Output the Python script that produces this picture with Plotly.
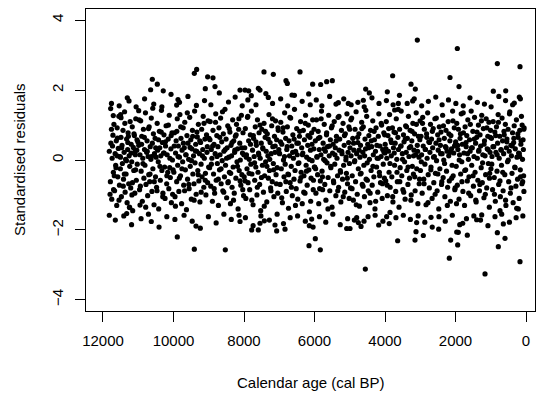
import plotly.graph_objects as go

# ---------------- data (read/estimated from the reference) ----------------
age_b11 = [11821, 11790, 11776, 11752, 11740, 11718, 11705, 11690, 11671, 11655,
           11640, 11622, 11610, 11598, 11580, 11566, 11550, 11533, 11520, 11507,
           11490, 11478, 11461, 11450, 11432, 11418, 11400, 11388, 11372, 11360,
           11345, 11330, 11316, 11300, 11288, 11270, 11258, 11241, 11230, 11214,
           11200, 11185, 11170, 11158, 11140, 11127, 11110, 11098, 11082, 11070,
           11055, 11040, 11028, 11012, 11800, 11760, 11730, 11680, 11630, 11590,
           11545, 11505, 11470, 11425, 11380, 11335, 11295, 11250, 11205, 11165,
           11120, 11075, 11035, 11700, 11600, 11500, 11395, 11280, 11180, 11090]
res_b11 = [0.25, -0.62, 0.48, -1.12, 0.05, 0.71, -0.35, 1.02, -0.88, 0.18,
           -0.15, 0.55, -1.30, 0.92, -0.48, 0.33, 1.25, -0.72, 0.10, -0.25,
           0.65, -1.05, 0.42, -0.10, 0.85, -0.55, 0.22, 1.38, -0.92, 0.02,
           -0.40, 0.60, -1.22, 0.30, 0.78, -0.68, 0.12, -0.18, 1.10, -0.80,
           0.45, -0.05, 0.95, -1.45, 0.36, -0.30, 0.70, -0.95, 0.15, 1.18,
           -0.58, 0.28, -0.12, 0.52, -0.98, 0.88, 0.40, -0.45, -0.22, 0.63,
           -1.15, 0.08, 0.35, -0.75, 1.05, -0.02, 0.50, -1.35, 0.20, -0.65,
           0.75, -0.28, 0.58, -0.85, 0.12, 1.30, -0.40, 0.68, -1.00, 0.25]

age_b10 = [10985, 10962, 10950, 10931, 10918, 10900, 10884, 10871, 10853, 10840,
           10822, 10810, 10795, 10780, 10762, 10750, 10733, 10720, 10702, 10690,
           10675, 10660, 10641, 10630, 10612, 10600, 10585, 10570, 10552, 10540,
           10521, 10510, 10494, 10480, 10463, 10450, 10432, 10420, 10401, 10390,
           10374, 10360, 10342, 10330, 10315, 10300, 10283, 10270, 10252, 10240,
           10225, 10210, 10193, 10180, 10162, 10150, 10133, 10120, 10102, 10090,
           10074, 10060, 10043, 10030, 10012, 10975, 10940, 10905, 10866, 10827,
           10788, 10745, 10708, 10666, 10625, 10588, 10545, 10505, 10468, 10425,
           10385, 10347, 10305, 10265, 10228, 10188, 10145, 10108, 10066, 10025]
res_b10 = [0.42, -0.85, 0.15, 1.12, -0.32, 0.68, -1.18, 0.05, 0.88, -0.52,
           0.30, -0.15, 1.35, -0.70, 0.22, 0.55, -1.02, 0.10, -0.42, 0.95,
           -0.62, 0.38, 0.02, 1.20, -0.90, 0.48, -0.25, 0.75, -1.28, 0.18,
           0.62, -0.48, 0.08, -0.78, 1.05, 0.28, -0.05, -1.40, 0.82, 0.35,
           -0.58, 0.12, 1.42, -0.30, 0.50, -0.95, 0.20, 0.72, -0.20, -1.10,
           0.40, 0.98, -0.68, 0.15, -0.35, 0.60, -0.82, 1.28, 0.05, -0.50,
           0.32, -1.22, 0.78, 0.00, -0.28, 1.15, -0.75, 0.45, -0.10, 0.65,
           -1.35, 0.25, 0.90, -0.40, 0.10, 1.48, -0.62, 0.35, -0.88, 0.58,
           -0.18, 0.80, -1.05, 0.20, 0.52, -0.45, 1.00, -0.22, 0.70, -0.98]

age_b9 = [9990, 9972, 9958, 9941, 9925, 9910, 9893, 9880, 9862, 9848,
          9831, 9818, 9801, 9788, 9770, 9757, 9740, 9725, 9710, 9694,
          9680, 9663, 9650, 9632, 9618, 9601, 9588, 9570, 9557, 9540,
          9525, 9510, 9494, 9480, 9463, 9450, 9432, 9418, 9401, 9388,
          9370, 9357, 9340, 9325, 9310, 9294, 9280, 9263, 9250, 9232,
          9218, 9201, 9188, 9170, 9157, 9140, 9125, 9110, 9094, 9080,
          9063, 9050, 9032, 9018, 9003, 9980, 9945, 9905, 9870, 9835,
          9795, 9760, 9720, 9685, 9645, 9608, 9565, 9530, 9490, 9455,
          9415, 9378, 9335, 9298, 9255, 9215, 9178, 9135, 9098, 9040]
res_b9 = [-0.35, 0.78, -1.05, 0.20, 0.55, -0.62, 1.18, -0.15, 0.40, -0.90,
          0.08, 1.30, -0.45, 0.62, -1.25, 0.28, -0.05, 0.92, -0.72, 0.35,
          1.08, -0.28, 0.15, -1.42, 0.70, -0.55, 0.48, 0.02, -0.82, 1.22,
          -0.18, 0.58, -1.12, 0.32, 0.85, -0.40, 0.12, -0.68, 1.40, -0.08,
          0.45, -0.98, 0.25, 0.66, -0.30, 1.02, -0.60, 0.18, -1.20, 0.50,
          -0.12, 0.88, -0.48, 0.30, 1.25, -0.78, 0.05, 0.60, -0.38, -1.00,
          0.72, 0.22, -0.65, 1.12, -0.20, 0.40, -1.32, 0.82, 0.10, -0.52,
          0.95, -0.25, 0.48, -0.88, 0.15, 1.35, -0.70, 0.36, -0.02, 0.68,
          -1.15, 0.26, 0.80, -0.42, 0.55, -0.92, 0.12, 1.05, -0.58, 0.38]

age_b8 = [8992, 8975, 8960, 8942, 8928, 8911, 8896, 8880, 8864, 8850,
          8833, 8818, 8802, 8788, 8771, 8756, 8740, 8726, 8710, 8694,
          8680, 8663, 8648, 8632, 8618, 8601, 8586, 8570, 8555, 8540,
          8523, 8508, 8492, 8478, 8461, 8446, 8430, 8415, 8400, 8384,
          8370, 8353, 8338, 8322, 8308, 8291, 8276, 8260, 8245, 8230,
          8213, 8198, 8182, 8168, 8151, 8136, 8120, 8105, 8090, 8074,
          8060, 8043, 8028, 8012, 8965, 8925, 8890, 8845, 8808, 8765,
          8728, 8688, 8650, 8610, 8575, 8532, 8495, 8455, 8418, 8378,
          8340, 8298, 8265, 8222, 8185, 8145, 8110, 8068, 8035, 8004]
res_b8 = [0.62, -0.22, 1.10, -0.75, 0.30, 0.05, -1.18, 0.85, -0.40, 0.45,
          -0.95, 0.18, 1.32, -0.58, 0.70, -0.10, 0.38, -1.30, 0.92, -0.28,
          0.15, 1.20, -0.68, 0.52, -0.02, -0.88, 0.75, 0.25, -0.48, 1.45,
          -0.15, 0.60, -1.08, 0.35, 0.98, -0.62, 0.08, -0.35, 0.80, -1.25,
          0.42, 0.12, -0.78, 1.15, -0.20, 0.55, -0.95, 0.28, 0.68, -0.52,
          1.02, -0.05, 0.32, -1.40, 0.88, -0.30, 0.48, 0.00, -0.72, 1.28,
          -0.42, 0.20, 0.78, -1.02, 0.58, -0.12, 0.40, -0.82, 1.08, 0.10,
          -0.55, 0.65, -0.25, 1.38, -0.92, 0.30, 0.05, -0.65, 0.90, -0.38,
          0.50, -1.15, 0.22, 0.72, -0.18, 1.18, -0.60, 0.35, -0.85, 0.15]

age_b7 = [7995, 7978, 7962, 7948, 7930, 7915, 7900, 7884, 7868, 7852,
          7838, 7820, 7806, 7790, 7775, 7758, 7742, 7728, 7712, 7696,
          7680, 7665, 7650, 7634, 7618, 7602, 7588, 7572, 7556, 7540,
          7526, 7510, 7494, 7478, 7462, 7448, 7432, 7416, 7400, 7386,
          7370, 7354, 7338, 7322, 7308, 7292, 7276, 7260, 7245, 7230,
          7214, 7198, 7182, 7168, 7152, 7136, 7120, 7105, 7090, 7074,
          7058, 7042, 7028, 7012, 7970, 7935, 7892, 7856, 7815, 7778,
          7735, 7700, 7660, 7622, 7580, 7545, 7505, 7468, 7425, 7390,
          7350, 7312, 7270, 7235, 7192, 7158, 7115, 7080, 7035, 7003]
res_b7 = [-0.48, 0.35, 0.90, -1.10, 0.15, -0.25, 1.22, -0.65, 0.55, 0.02,
          -0.85, 0.72, -0.12, 1.40, -0.40, 0.28, -1.28, 0.62, 0.10, -0.58,
          0.95, -0.20, 0.42, -1.00, 1.15, -0.35, 0.20, 0.78, -0.70, 0.05,
          -1.45, 0.48, 0.88, -0.15, 0.32, -0.92, 1.05, -0.45, 0.65, -0.05,
          0.25, -1.20, 0.75, 0.12, -0.52, 1.30, -0.30, 0.50, -0.80, 0.18,
          0.98, -0.62, 0.38, -0.10, -1.05, 0.68, 0.22, 1.12, -0.42, 0.58,
          -0.22, -0.95, 0.85, 0.30, -0.60, 0.08, 1.25, -0.38, 0.45, -1.15,
          0.70, -0.08, 0.52, -0.78, 0.15, 1.00, -0.50, 0.35, -1.32, 0.82,
          -0.18, 0.60, 0.02, -0.88, 1.18, -0.28, 0.40, -0.68, 0.92, 0.20]

age_b6 = [6990, 6974, 6958, 6942, 6927, 6910, 6895, 6880, 6864, 6848,
          6832, 6817, 6800, 6786, 6770, 6754, 6738, 6722, 6708, 6692,
          6676, 6660, 6645, 6630, 6614, 6598, 6582, 6568, 6552, 6536,
          6520, 6505, 6490, 6474, 6458, 6442, 6427, 6410, 6395, 6380,
          6364, 6348, 6332, 6317, 6300, 6286, 6270, 6254, 6238, 6222,
          6208, 6192, 6176, 6160, 6145, 6130, 6114, 6098, 6082, 6068,
          6052, 6036, 6020, 6005, 6965, 6930, 6888, 6852, 6812, 6775,
          6735, 6698, 6655, 6620, 6578, 6540, 6500, 6462, 6420, 6385,
          6342, 6305, 6262, 6228, 6185, 6150, 6108, 6072, 6030, 6012]
res_b6 = [0.18, -0.70, 1.08, -0.25, 0.45, -1.22, 0.80, 0.00, -0.48, 1.35,
          -0.12, 0.62, -0.90, 0.30, 0.95, -0.40, -1.38, 0.55, 0.12, -0.65,
          1.20, -0.18, 0.40, -1.02, 0.72, 0.05, -0.55, 1.45, -0.30, 0.25,
          -0.82, 0.90, 0.15, -1.12, 0.48, -0.08, 0.68, -0.60, 1.10, -0.35,
          0.35, -1.25, 0.20, 0.85, -0.45, 0.58, -0.95, 1.28, -0.15, 0.08,
          -0.72, 0.42, 1.00, -0.28, -1.48, 0.65, 0.28, -0.52, 0.78, -0.02,
          1.15, -0.85, 0.32, -0.20, 0.52, -1.08, 0.92, 0.10, -0.62, 0.38,
          -0.42, 1.22, -0.78, 0.22, 0.60, -1.30, 0.48, -0.10, 0.82, -0.50,
          0.15, -0.92, 1.05, -0.32, 0.70, 0.02, -1.18, 0.45, -0.58, 0.88]

age_b5 = [5992, 5976, 5960, 5944, 5928, 5912, 5896, 5880, 5865, 5850,
          5834, 5818, 5802, 5786, 5770, 5755, 5740, 5724, 5708, 5692,
          5676, 5660, 5645, 5630, 5614, 5598, 5582, 5566, 5550, 5535,
          5520, 5504, 5488, 5472, 5456, 5440, 5425, 5410, 5394, 5378,
          5362, 5346, 5330, 5315, 5300, 5284, 5268, 5252, 5236, 5220,
          5205, 5190, 5174, 5158, 5142, 5126, 5110, 5095, 5080, 5064,
          5048, 5032, 5016, 5002, 5968, 5932, 5890, 5855, 5812, 5775,
          5732, 5698, 5655, 5618, 5575, 5540, 5498, 5462, 5420, 5385,
          5340, 5305, 5262, 5228, 5185, 5150, 5105, 5070, 5025, 5008]
res_b5 = [-0.20, 0.55, -0.95, 1.15, 0.08, -0.42, 0.82, -1.25, 0.30, 0.65,
          -0.60, 0.15, 1.40, -0.32, -0.85, 0.48, 0.02, 1.02, -0.70, 0.25,
          -1.15, 0.72, -0.08, 0.38, -0.50, 1.28, 0.12, -0.88, 0.58, -0.22,
          0.92, -1.35, 0.20, 0.45, -0.65, 1.10, -0.12, 0.35, -1.02, 0.68,
          0.05, -0.45, 1.22, -0.78, 0.28, 0.60, -0.30, -1.20, 0.85, 0.18,
          -0.55, 1.05, -0.15, 0.42, -0.92, 0.75, 0.00, -0.38, 1.32, -0.68,
          0.22, 0.50, -1.10, 0.88, -0.25, 0.10, 0.62, -0.82, 1.18, -0.48,
          0.32, -0.02, 0.78, -1.40, 0.40, -0.18, 0.98, -0.60, 0.15, 0.55,
          -0.88, 1.25, -0.35, 0.25, -1.05, 0.70, 0.08, -0.52, 0.95, -0.10]

age_b4 = [4993, 4978, 4962, 4946, 4930, 4914, 4898, 4882, 4866, 4850,
          4835, 4820, 4804, 4788, 4772, 4756, 4740, 4725, 4710, 4694,
          4678, 4662, 4646, 4630, 4615, 4600, 4584, 4568, 4552, 4536,
          4520, 4505, 4490, 4474, 4458, 4442, 4426, 4410, 4395, 4380,
          4364, 4348, 4332, 4316, 4300, 4285, 4270, 4254, 4238, 4222,
          4206, 4190, 4175, 4160, 4144, 4128, 4112, 4096, 4080, 4065,
          4050, 4034, 4018, 4004, 4970, 4935, 4892, 4858, 4815, 4778,
          4735, 4700, 4658, 4622, 4578, 4545, 4500, 4465, 4422, 4388,
          4342, 4308, 4265, 4230, 4188, 4152, 4108, 4072, 4028, 4010]
res_b4 = [0.35, -0.80, 0.12, 1.20, -0.45, 0.62, -1.15, 0.28, -0.05, 0.88,
          -0.62, 1.38, 0.18, -0.98, 0.50, -0.25, 0.75, -1.32, 0.08, 0.42,
          -0.38, 1.08, -0.70, 0.22, 0.95, -0.15, -1.05, 0.60, 0.32, -0.55,
          1.25, -0.08, 0.45, -0.88, 0.70, 0.02, -1.22, 0.85, -0.30, 0.38,
          -0.72, 1.12, 0.15, -0.48, 0.58, -1.40, 0.25, 0.92, -0.20, 0.05,
          -0.92, 0.68, 1.32, -0.35, 0.40, -0.65, 0.10, 1.00, -1.10, 0.30,
          -0.12, 0.78, -0.52, 0.20, 1.15, -0.82, 0.48, -0.02, -1.28, 0.65,
          0.28, -0.40, 0.90, -0.75, 0.12, 1.42, -0.58, 0.35, -0.95, 0.55,
          -0.18, 0.82, -1.18, 0.42, 0.05, -0.45, 1.05, -0.68, 0.22, 0.72]

age_b3 = [3995, 3980, 3964, 3948, 3932, 3916, 3900, 3885, 3870, 3854,
          3838, 3822, 3806, 3790, 3775, 3760, 3744, 3728, 3712, 3696,
          3680, 3665, 3650, 3634, 3618, 3602, 3586, 3570, 3555, 3540,
          3524, 3508, 3492, 3476, 3460, 3445, 3430, 3414, 3398, 3382,
          3366, 3350, 3335, 3320, 3304, 3288, 3272, 3256, 3240, 3225,
          3210, 3194, 3178, 3162, 3146, 3130, 3115, 3100, 3084, 3068,
          3052, 3036, 3020, 3005, 3972, 3938, 3895, 3860, 3818, 3782,
          3738, 3702, 3660, 3625, 3580, 3545, 3502, 3468, 3425, 3390,
          3345, 3310, 3265, 3232, 3190, 3155, 3110, 3075, 3030, 3012]
res_b3 = [0.45, -0.60, 1.10, 0.05, -1.02, 0.70, 0.25, -0.35, 1.30, -0.78,
          0.58, 0.12, -0.48, 0.92, -1.20, 0.35, 0.80, -0.15, 0.48, -0.90,
          1.18, 0.02, -0.62, 0.65, 0.30, -1.35, 0.88, -0.22, 0.40, 1.40,
          -0.45, 0.18, -0.85, 0.72, 0.52, -0.05, -1.12, 0.98, 0.22, -0.30,
          0.62, -0.70, 1.25, 0.10, -0.52, 0.85, 0.38, -1.00, 0.55, -0.18,
          1.05, -0.40, 0.28, 0.75, -0.88, 0.15, 1.35, -0.25, 0.42, -1.25,
          0.68, 0.08, -0.55, 1.12, 0.32, -0.72, 0.90, -0.10, 0.50, -1.05,
          0.20, 0.78, -0.35, 1.45, -0.62, 0.40, 0.02, -0.92, 0.60, 0.95,
          -0.20, 0.35, -1.15, 0.82, 0.12, -0.48, 1.02, 0.25, -0.68, 0.58]

age_b2 = [2994, 2978, 2962, 2946, 2930, 2915, 2900, 2884, 2868, 2852,
          2836, 2820, 2805, 2790, 2774, 2758, 2742, 2726, 2710, 2695,
          2680, 2664, 2648, 2632, 2616, 2600, 2585, 2570, 2554, 2538,
          2522, 2506, 2490, 2475, 2460, 2444, 2428, 2412, 2396, 2380,
          2365, 2350, 2334, 2318, 2302, 2286, 2270, 2255, 2240, 2224,
          2208, 2192, 2176, 2160, 2145, 2130, 2114, 2098, 2082, 2066,
          2050, 2035, 2020, 2004, 2970, 2936, 2892, 2858, 2815, 2780,
          2736, 2700, 2658, 2622, 2578, 2545, 2500, 2466, 2422, 2388,
          2342, 2310, 2265, 2232, 2188, 2152, 2108, 2072, 2028, 2010]
res_b2 = [-0.30, 0.68, 0.15, -0.95, 1.22, 0.40, -0.55, 0.88, -0.12, 0.30,
          -1.28, 0.75, 0.05, 1.35, -0.42, 0.52, -0.80, 0.22, 1.02, -0.20,
          0.60, -1.10, 0.35, 0.90, -0.65, 0.10, 1.18, -0.38, 0.48, -0.02,
          -0.88, 0.72, 0.28, -1.40, 0.95, -0.25, 0.42, 0.80, -0.70, 0.18,
          1.28, -0.50, 0.00, 0.62, -1.05, 0.38, 0.85, -0.32, 0.25, -0.78,
          1.10, 0.12, -0.60, 0.55, -1.18, 0.70, 0.32, -0.15, 1.40, -0.45,
          0.20, 0.92, -0.85, 0.45, -0.05, 1.05, -0.68, 0.30, 0.65, -1.22,
          0.50, -0.28, 0.82, 0.08, -0.98, 1.20, -0.40, 0.58, 0.18, -0.62,
          0.98, -0.10, 0.35, -1.30, 0.75, 0.22, -0.52, 1.12, 0.40, -0.80]

age_b1 = [1995, 1980, 1964, 1948, 1932, 1916, 1900, 1885, 1870, 1854,
          1838, 1822, 1806, 1790, 1775, 1760, 1744, 1728, 1712, 1696,
          1680, 1665, 1650, 1634, 1618, 1602, 1586, 1570, 1555, 1540,
          1524, 1508, 1492, 1476, 1460, 1445, 1430, 1414, 1398, 1382,
          1366, 1350, 1335, 1320, 1304, 1288, 1272, 1256, 1240, 1225,
          1210, 1194, 1178, 1162, 1146, 1130, 1115, 1100, 1084, 1068,
          1052, 1036, 1020, 1005, 1972, 1938, 1895, 1860, 1818, 1782,
          1738, 1702, 1660, 1625, 1580, 1545, 1502, 1468, 1425, 1390,
          1345, 1310, 1265, 1232, 1190, 1155, 1110, 1075, 1030, 1012]
res_b1 = [0.52, -0.18, 1.05, -0.72, 0.30, 0.88, -1.12, 0.15, 0.62, -0.40,
          1.32, -0.05, 0.45, -0.90, 0.78, 0.20, -1.30, 0.95, -0.28, 0.38,
          0.70, -0.60, 1.15, 0.02, -0.48, 0.58, 0.25, -1.02, 1.40, -0.15,
          0.35, 0.82, -0.75, 0.10, 1.22, -0.35, 0.48, -1.20, 0.65, 0.05,
          -0.58, 1.00, 0.28, -0.88, 0.72, 0.40, -0.22, 1.28, -0.65, 0.15,
          0.90, -1.08, 0.55, 0.12, -0.42, 1.18, -0.80, 0.32, 0.68, -0.10,
          1.08, -0.52, 0.22, 0.85, -1.25, 0.42, 0.00, 0.75, -0.62, 1.35,
          -0.30, 0.50, 0.18, -0.95, 1.02, 0.35, -0.45, 0.60, -1.15, 0.80,
          0.25, -0.70, 1.12, -0.08, 0.45, -0.98, 0.92, 0.30, -0.38, 0.65]

age_b0 = [995, 980, 964, 948, 932, 916, 900, 885, 870, 854,
          838, 822, 806, 790, 775, 760, 744, 728, 712, 696,
          680, 665, 650, 634, 618, 602, 586, 570, 555, 540,
          524, 508, 492, 476, 460, 445, 430, 414, 398, 382,
          366, 350, 335, 320, 304, 288, 272, 256, 240, 225,
          210, 194, 178, 162, 146, 130, 115, 100, 84, 68,
          55, 972, 938, 895, 860, 818, 782, 738, 702, 660,
          625, 580, 545, 502, 468, 425, 390, 345, 310, 265,
          232, 190, 155, 110, 75, 60, 140, 95, 62, 180]
res_b0 = [-0.25, 0.62, 0.10, -0.85, 1.10, 0.38, -0.50, 0.80, -1.18, 0.22,
          0.95, -0.32, 0.48, 1.30, -0.70, 0.05, 0.68, -1.05, 0.30, -0.15,
          1.20, 0.55, -0.88, 0.18, 0.72, -0.42, 1.02, -1.30, 0.35, 0.60,
          -0.05, 0.88, -0.62, 0.25, 1.38, -0.95, 0.42, 0.12, -0.38, 0.78,
          -1.22, 0.50, 0.98, -0.20, 0.32, -0.75, 1.15, 0.08, -0.55, 0.65,
          0.20, -1.10, 0.85, -0.28, 0.45, 1.25, -0.68, 0.02, 0.58, -0.45,
          0.92, -0.12, 0.38, -0.98, 0.70, 0.15, 1.08, -0.60, 0.28, -0.35,
          0.82, -1.15, 0.52, 0.00, 1.32, -0.80, 0.40, 0.62, -0.22, -1.38,
          0.75, 0.18, -0.48, 1.00, 0.30, -0.90, 0.55, -0.62, 0.88, 0.10]

# the thinning fringe of the cloud (|residual| about 1.5-2)
age_fringe = [11760, 11650, 11540, 11410, 11310, 11190, 11060, 10920, 10820, 10710,
              10560, 10410, 10330, 10190, 10070, 9960, 9830, 9700, 9590, 9470,
              9350, 9240, 9120, 9010, 8940, 8790, 8700, 8570, 8440, 8360,
              8250, 8140, 8050, 7960, 7890, 7740, 7660, 7520, 7380, 7280,
              7190, 7060, 6960, 6880, 6760, 6690, 6570, 6480, 6350, 6260,
              6120, 6040, 5950, 5860, 5790, 5680, 5570, 5480, 5390, 5270,
              5170, 5060, 4960, 4870, 4770, 4680, 4590, 4480, 4370, 4280,
              4170, 4060, 3960, 3880, 3770, 3690, 3590, 3480, 3370, 3280,
              3170, 3060, 2960, 2870, 2770, 2660, 2560, 2470, 2380, 2290,
              2200, 2090, 1990, 1880, 1780, 1690, 1590, 1480, 1380, 1290,
              1180, 1080, 990, 880, 770, 690, 580, 470, 380, 280,
              160, 90]
res_fringe = [1.62, -1.72, 1.55, -1.60, 1.78, -1.85, 1.52, -1.68, 1.75, -1.55,
              1.60, -1.92, 1.52, -1.62, 1.88, -1.70, 1.65, -1.58, 1.82, -1.75,
              1.56, -1.95, 1.70, -1.62, 1.58, -1.80, 1.92, -1.55, 1.66, -1.70,
              1.80, -1.58, 1.55, -1.65, 1.72, -1.88, 1.58, -1.60, 1.90, -1.72,
              1.62, -1.55, 1.75, -1.82, 1.55, -1.65, 1.85, -1.60, 1.68, -1.75,
              1.58, -1.92, 1.72, -1.62, 1.55, -1.78, 1.82, -1.55, 1.60, -1.85,
              1.75, -1.68, 1.58, -1.72, 1.65, -1.90, 1.52, -1.62, 1.78, -1.58,
              1.62, -1.75, 1.70, -1.82, 1.58, -1.65, 1.85, -1.58, 1.62, -1.70,
              1.75, -1.60, 1.55, -1.78, 1.68, -1.92, 1.80, -1.62, 1.58, -1.75,
              1.72, -1.58, 1.62, -1.85, 1.55, -1.68, 1.78, -1.60, 1.65, -1.72,
              1.60, -1.88, 1.52, -1.62, 1.82, -1.55, 1.70, -1.78, 1.58, -1.65,
              1.75, -1.60]

# isolated points in the tails, read individually
age_tail = [10601, 10459, 10648, 10290, 11262, 11782, 11708, 11821, 10630, 9892,
            11243, 11328, 10950, 10987, 11489, 9343, 9409, 9031, 8880, 9098,
            8823, 7433, 7168, 6809, 6771, 8113, 7972, 7867, 7593, 7546,
            7793, 9910, 9872, 7310, 9409, 8530, 7782, 7594, 7073, 6837,
            9362, 8113, 7546, 7423, 7121, 6411, 6052, 5825, 5655, 5494,
            6638, 6165, 3783, 3934, 4548, 4445, 4615, 5324, 5041, 6080,
            6147, 5977, 6156, 5835, 5087, 4993, 4803, 4757, 4596, 4180,
            4558, 3641, 3953, 3858, 3083, 1948, 813, 170, 3262, 3140,
            3215, 2156, 1901, 927, 576, 190, 332, 3622, 3726, 3121,
            3149, 2913, 2695, 2477, 2137, 1966, 1920, 1938, 1665, 2175,
            1163, 170, 813, 643, 596, 785, 1400, 1257, 1796, 1040,
            738, 218, 3102]
res_tail = [2.31, 2.17, 2.01, 1.98, 1.69, 1.47, 1.27, -1.58, -1.76, -2.20,
            -1.36, -1.53, -1.29, 1.41, 1.21, 2.59, 2.48, 2.38, 2.35, 2.04,
            2.10, 2.52, 2.45, 2.27, 2.19, 2.00, 2.00, 1.98, 2.05, 2.00,
            1.84, 1.57, 1.73, 1.79, -2.55, -2.57, -2.00, -2.00, -2.03, -1.98,
            -1.89, -1.76, -1.81, -1.74, -1.86, 2.52, 2.17, 2.16, 2.24, 2.27,
            1.86, 1.89, 2.41, 1.95, 2.03, 1.92, 1.71, 1.64, 1.62, -1.69,
            -1.88, -2.25, -2.45, -2.57, -1.96, -1.96, -1.65, -1.79, -1.75, -1.86,
            -3.12, -2.31, -1.62, -1.50, 3.43, 3.19, 2.76, 2.67, 2.17, 2.03,
            1.69, 2.36, 2.10, 1.97, 1.98, 1.80, 1.63, 1.62, 1.43, -2.05,
            -2.29, -2.16, -1.64, -1.98, -2.29, -2.06, -2.07, -2.43, -2.15, -2.81,
            -3.26, -2.91, -2.08, -1.83, -2.24, -2.48, -1.71, -1.57, -1.81, -1.35,
            -1.45, -1.40, -1.79]

y_ticks = [-4, -2, 0, 2, 4]
x_ticks = [12000, 10000, 8000, 6000, 4000, 2000, 0]

# ---------------- assemble ----------------
age_blocks = [age_b11, age_b10, age_b9, age_b8, age_b7, age_b6, age_b5,
              age_b4, age_b3, age_b2, age_b1, age_b0, age_fringe, age_tail]
res_blocks = [res_b11, res_b10, res_b9, res_b8, res_b7, res_b6, res_b5,
              res_b4, res_b3, res_b2, res_b1, res_b0, res_fringe, res_tail]
ages, resids = [], []
for a, r in zip(age_blocks, res_blocks):
    n = min(len(a), len(r))
    ages += a[:n]
    resids += r[:n]

FONT = "Liberation Sans, Arial, Helvetica, sans-serif"

fig = go.Figure(go.Scatter(
    x=ages, y=resids, mode="markers",
    marker=dict(color="black", size=5.2, line=dict(width=0)),
    hoverinfo="x+y"))

axis_common = dict(showgrid=False, zeroline=False, showline=True, mirror=True,
                   linecolor="black", linewidth=1, ticks="outside", ticklen=10,
                   tickwidth=1, tickcolor="black", ticklabelposition="outside",
                   tickfont=dict(family=FONT, size=15, color="black"))

fig.update_layout(
    width=536, height=393,
    margin=dict(l=86, r=1, t=9, b=82),
    paper_bgcolor="white", plot_bgcolor="white",
    showlegend=False,
    xaxis=dict(range=[12482, -255], tickvals=x_ticks,
               ticktext=[str(v) for v in x_ticks], ticklabelstandoff=6,
               **axis_common),
    yaxis=dict(range=[-4.32, 4.32], tickvals=y_ticks,
               ticktext=[("\u2212" + str(-v)) if v < 0 else str(v) for v in y_ticks],
               tickangle=-90, ticklabelstandoff=6, **axis_common),
    annotations=[
        dict(text="Calendar age (cal BP)", xref="paper", yref="paper",
             x=0.5, y=0, xanchor="center", yanchor="middle", yshift=-71,
             showarrow=False, font=dict(family=FONT, size=15, color="black")),
        dict(text="Standardised residuals", xref="paper", yref="paper",
             x=0, y=0.5, xanchor="center", yanchor="middle", xshift=-67,
             textangle=-90, showarrow=False,
             font=dict(family=FONT, size=15, color="black")),
    ],
)

fig.write_html("out.html")
